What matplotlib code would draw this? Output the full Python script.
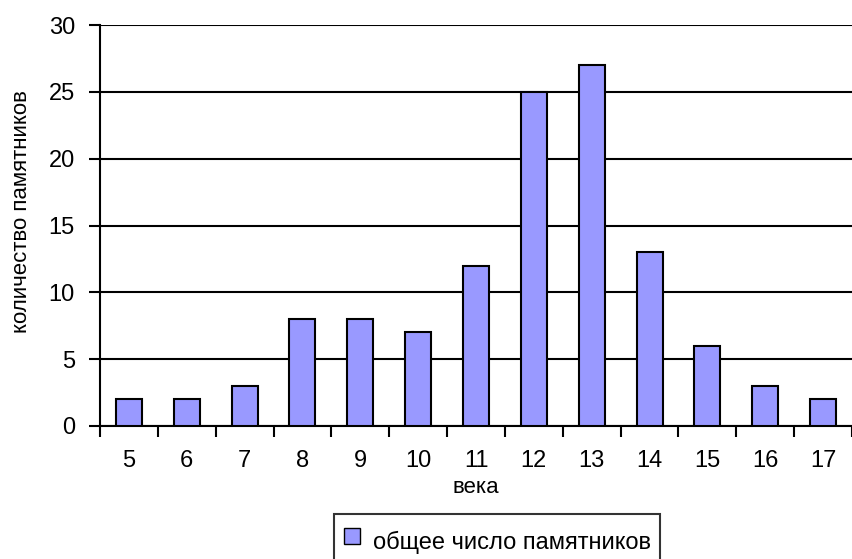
import matplotlib
matplotlib.use('Agg')
import matplotlib.pyplot as plt
from matplotlib.lines import Line2D

plt.rcParams['font.family'] = ['Liberation Sans', 'DejaVu Sans']

# data
centuries = ['5', '6', '7', '8', '9', '10', '11', '12', '13', '14', '15', '16', '17']
counts = [2, 2, 3, 8, 8, 7, 12, 25, 27, 13, 6, 3, 2]
bar_color = '#9999ff'

fig = plt.figure(figsize=(8.52, 5.59), dpi=100)
ax = fig.add_axes([100 / 852, 133 / 559, 1.0 - 100 / 852, 401 / 559])

x = range(len(centuries))
ax.bar(x, counts, width=0.45, color=bar_color, edgecolor='black', linewidth=1.5, zorder=3)

ax.set_xlim(-0.5, len(centuries) - 0.5)
ax.set_ylim(0, 30)
ax.set_yticks(range(0, 31, 5))
ax.yaxis.grid(True, color='black', linewidth=1.5, zorder=0)

# ticks between categories, labels centred under bars
ax.set_xticks([i - 0.5 for i in range(len(centuries) + 1)])
ax.set_xticklabels([])
ax.set_xticks(list(x), minor=True)
ax.set_xticklabels(centuries, minor=True, fontsize=17)
ax.tick_params(axis='x', which='minor', length=0, pad=17)
ax.tick_params(axis='x', which='major', length=8, width=1.5, direction='out')
ax.tick_params(axis='y', length=8, width=1.5, direction='out', labelsize=17, pad=10)

for side in ['top', 'right']:
    ax.spines[side].set_visible(False)
for side in ['left', 'bottom']:
    ax.spines[side].set_linewidth(1.5)

ax.set_xlabel('века', fontsize=16, labelpad=4)
ax.set_ylabel('количество памятников', fontsize=16, labelpad=12)
ax.yaxis.label.set_y(0.535)

handle = Line2D([], [], marker='s', ls='none', markerfacecolor=bar_color,
                markeredgecolor='black', markersize=11)
leg = fig.legend([handle], ['общее число памятников'], loc='upper center',
                 bbox_to_anchor=(497 / 852, 1 - 514 / 559), fontsize=17,
                 frameon=True, fancybox=False, edgecolor='black',
                 handlelength=0.7, handletextpad=0.55, borderpad=0.4,
                 handleheight=2.0, borderaxespad=0)
leg.get_frame().set_linewidth(1.5)

fig.savefig('out.png', dpi=100)
